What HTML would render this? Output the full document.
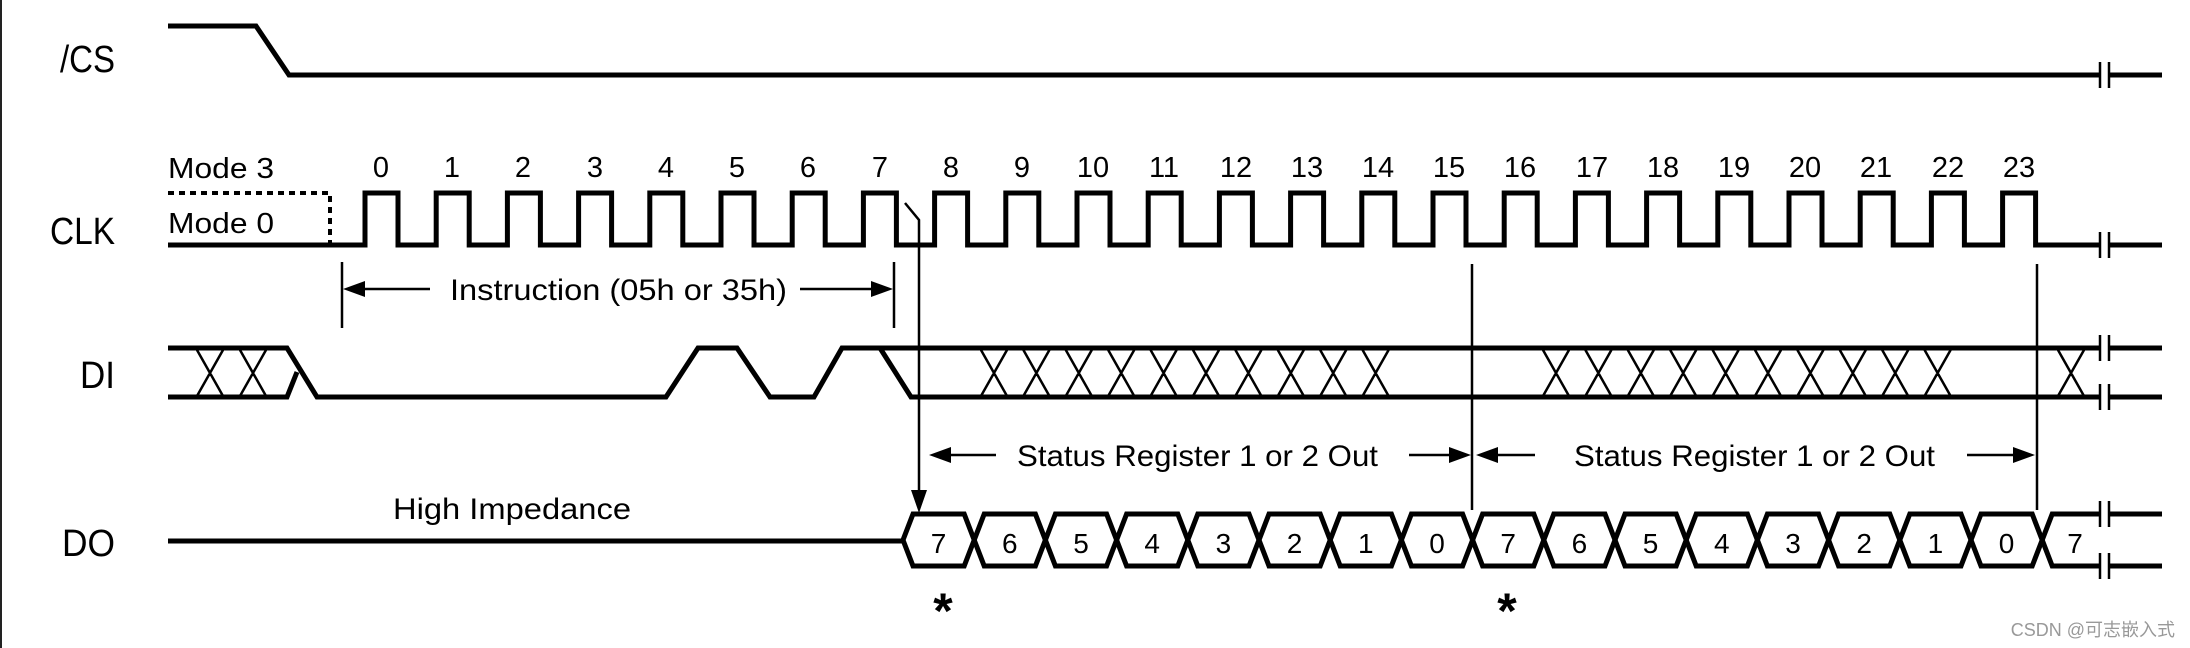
<!DOCTYPE html>
<html><head><meta charset="utf-8"><style>
html,body{margin:0;padding:0;background:#fff;}
svg{display:block;}
text{font-family:"Liberation Sans Narrow","Liberation Sans",sans-serif;fill:#000;}
</style></head><body>
<svg width="2190" height="648" viewBox="0 0 2190 648" xmlns="http://www.w3.org/2000/svg">
<rect x="0" y="0" width="2190" height="648" fill="#fff"/>
<line x1="1" y1="0" x2="1" y2="648" stroke="#222" stroke-width="2"/>

<text x="115" y="72" font-size="38" text-anchor="end" textLength="55" lengthAdjust="spacingAndGlyphs">/CS</text>
<text x="115" y="244" font-size="38" text-anchor="end" textLength="65" lengthAdjust="spacingAndGlyphs">CLK</text>
<text x="115" y="388" font-size="38" text-anchor="end" textLength="35" lengthAdjust="spacingAndGlyphs">DI</text>
<text x="115" y="556" font-size="38" text-anchor="end" textLength="53" lengthAdjust="spacingAndGlyphs">DO</text>

<g fill="none" stroke="#000" stroke-width="5" stroke-linejoin="miter">
<path d="M168 26 H256 L289 75 H2100 M2109 75 H2162"/>
<path d="M168 245 H365 V193 h33 V245 h38.2 V193 h33 V245 h38.2 V193 h33 V245 h38.2 V193 h33 V245 h38.2 V193 h33 V245 h38.2 V193 h33 V245 h38.2 V193 h33 V245 h38.2 V193 h33 V245 h38.2 V193 h33 V245 h38.2 V193 h33 V245 h38.2 V193 h33 V245 h38.2 V193 h33 V245 h38.2 V193 h33 V245 h38.2 V193 h33 V245 h38.2 V193 h33 V245 h38.2 V193 h33 V245 h38.2 V193 h33 V245 h38.2 V193 h33 V245 h38.2 V193 h33 V245 h38.2 V193 h33 V245 h38.2 V193 h33 V245 h38.2 V193 h33 V245 h38.2 V193 h33 V245 h38.2 V193 h33 V245 H2100 M2109 245 H2162"/>
<path d="M168 348 H287 L317 397 H666 L698 348 H737 L770 397 H814 L842 348 H2100 M2109 348 H2162"/>
<path d="M168 397 H287 L297 372"/>
<path d="M880 348 L911 397 H2100 M2109 397 H2162"/>
<path d="M168 541 H903"/>
<path d="M903 540 L913 514 H964.2 L984.2 566 H1035.4 L1055.4 514 H1106.6 L1126.6 566 H1177.8 L1197.8 514 H1249 L1269 566 H1320.2 L1340.2 514 H1391.4 L1411.4 566 H1462.6 L1482.6 514 H1533.8 L1553.8 566 H1605 L1625 514 H1676.2 L1696.2 566 H1747.4 L1767.4 514 H1818.6 L1838.6 566 H1889.8 L1909.8 514 H1961 L1981 566 H2032.2 L2052.2 514 H2100 M2109 514 H2162"/>
<path d="M903 540 L913 566 H964.2 L984.2 514 H1035.4 L1055.4 566 H1106.6 L1126.6 514 H1177.8 L1197.8 566 H1249 L1269 514 H1320.2 L1340.2 566 H1391.4 L1411.4 514 H1462.6 L1482.6 566 H1533.8 L1553.8 514 H1605 L1625 566 H1676.2 L1696.2 514 H1747.4 L1767.4 566 H1818.6 L1838.6 514 H1889.8 L1909.8 566 H1961 L1981 514 H2032.2 L2052.2 566 H2100 M2109 566 H2162"/>
</g>

<path d="M168 193 H330 V245" fill="none" stroke="#000" stroke-width="4" stroke-dasharray="6,5"/>

<g stroke="#000" stroke-width="2.5" fill="none">
<path d="M197 350 l26 46 m-26 0 l26 -46 M240 350 l26 46 m-26 0 l26 -46
M981 350 l26 46 m-26 0 l26 -46 M1023.4 350 l26 46 m-26 0 l26 -46 M1065.8 350 l26 46 m-26 0 l26 -46 M1108.2 350 l26 46 m-26 0 l26 -46 M1150.6 350 l26 46 m-26 0 l26 -46 M1193 350 l26 46 m-26 0 l26 -46 M1235.4 350 l26 46 m-26 0 l26 -46 M1277.8 350 l26 46 m-26 0 l26 -46 M1320.2 350 l26 46 m-26 0 l26 -46 M1362.6 350 l26 46 m-26 0 l26 -46
M1543 350 l26 46 m-26 0 l26 -46 M1585.4 350 l26 46 m-26 0 l26 -46 M1627.8 350 l26 46 m-26 0 l26 -46 M1670.2 350 l26 46 m-26 0 l26 -46 M1712.6 350 l26 46 m-26 0 l26 -46 M1755 350 l26 46 m-26 0 l26 -46 M1797.4 350 l26 46 m-26 0 l26 -46 M1839.8 350 l26 46 m-26 0 l26 -46 M1882.2 350 l26 46 m-26 0 l26 -46 M1924.6 350 l26 46 m-26 0 l26 -46
M2058 350 l26 46 m-26 0 l26 -46"/>
</g>

<g stroke="#000" stroke-width="2.5">
<line x1="2100" y1="62" x2="2100" y2="88"/><line x1="2109" y1="62" x2="2109" y2="88"/>
<line x1="2100" y1="232" x2="2100" y2="258"/><line x1="2109" y1="232" x2="2109" y2="258"/>
<line x1="2100" y1="335" x2="2100" y2="361"/><line x1="2109" y1="335" x2="2109" y2="361"/>
<line x1="2100" y1="384" x2="2100" y2="410"/><line x1="2109" y1="384" x2="2109" y2="410"/>
<line x1="2100" y1="501" x2="2100" y2="527"/><line x1="2109" y1="501" x2="2109" y2="527"/>
<line x1="2100" y1="553" x2="2100" y2="579"/><line x1="2109" y1="553" x2="2109" y2="579"/>
</g>

<g stroke="#000" stroke-width="2.5" fill="none">
<line x1="342" y1="262" x2="342" y2="328"/>
<line x1="894" y1="262" x2="894" y2="328"/>
<line x1="358" y1="289" x2="430" y2="289"/>
<line x1="800" y1="289" x2="876" y2="289"/>
<path d="M905 203 L919 220 V495"/>
<line x1="1472" y1="264" x2="1472" y2="510"/>
<line x1="2037" y1="264" x2="2037" y2="510"/>
<line x1="945" y1="455" x2="996" y2="455"/>
<line x1="1409" y1="455" x2="1455" y2="455"/>
<line x1="1493" y1="455" x2="1535" y2="455"/>
<line x1="1967" y1="455" x2="2018" y2="455"/>
</g>
<g fill="#000">
<polygon points="343,289 365,281 365,297"/>
<polygon points="893,289 871,281 871,297"/>
<polygon points="919,513 911,490 927,490"/>
<polygon points="929,455 951,447 951,463"/>
<polygon points="1471,455 1449,447 1449,463"/>
<polygon points="1476,455 1498,447 1498,463"/>
<polygon points="2035,455 2013,447 2013,463"/>
</g>

<g font-size="29" text-anchor="middle">
<text x="381" y="177">0</text><text x="452" y="177">1</text><text x="523" y="177">2</text><text x="595" y="177">3</text><text x="666" y="177">4</text><text x="737" y="177">5</text><text x="808" y="177">6</text><text x="880" y="177">7</text>
<text x="951" y="177">8</text><text x="1022" y="177">9</text><text x="1093" y="177">10</text><text x="1164" y="177">11</text><text x="1236" y="177">12</text><text x="1307" y="177">13</text><text x="1378" y="177">14</text><text x="1449" y="177">15</text>
<text x="1520" y="177">16</text><text x="1592" y="177">17</text><text x="1663" y="177">18</text><text x="1734" y="177">19</text><text x="1805" y="177">20</text><text x="1876" y="177">21</text><text x="1948" y="177">22</text><text x="2019" y="177">23</text>
</g>
<text x="168" y="178" font-size="29" textLength="106" lengthAdjust="spacingAndGlyphs">Mode 3</text>
<text x="168" y="233" font-size="29" textLength="106" lengthAdjust="spacingAndGlyphs">Mode 0</text>

<text x="450" y="300" font-size="30" textLength="337" lengthAdjust="spacingAndGlyphs">Instruction (05h or 35h)</text>
<text x="1017" y="466" font-size="30" textLength="361" lengthAdjust="spacingAndGlyphs">Status Register 1 or 2 Out</text>
<text x="1574" y="466" font-size="30" textLength="361" lengthAdjust="spacingAndGlyphs">Status Register 1 or 2 Out</text>
<text x="393" y="519" font-size="30" textLength="238" lengthAdjust="spacingAndGlyphs">High Impedance</text>

<g font-size="28" text-anchor="middle">
<text x="938.6" y="553">7</text><text x="1009.8" y="553">6</text><text x="1081" y="553">5</text><text x="1152.2" y="553">4</text><text x="1223.4" y="553">3</text><text x="1294.6" y="553">2</text><text x="1365.8" y="553">1</text><text x="1437" y="553">0</text>
<text x="1508.2" y="553">7</text><text x="1579.4" y="553">6</text><text x="1650.6" y="553">5</text><text x="1721.8" y="553">4</text><text x="1793" y="553">3</text><text x="1864.2" y="553">2</text><text x="1935.4" y="553">1</text><text x="2006.6" y="553">0</text>
<text x="2075" y="553">7</text>
</g>
<g font-size="50" text-anchor="middle" font-weight="bold">
<text x="943" y="628">*</text>
<text x="1507" y="628">*</text>
</g>

<text x="2175" y="636" font-size="18" text-anchor="end" style="font-family:'Liberation Sans','Noto Sans CJK SC',sans-serif;fill:#999">CSDN @可志嵌入式</text>
</svg>
</body></html>
